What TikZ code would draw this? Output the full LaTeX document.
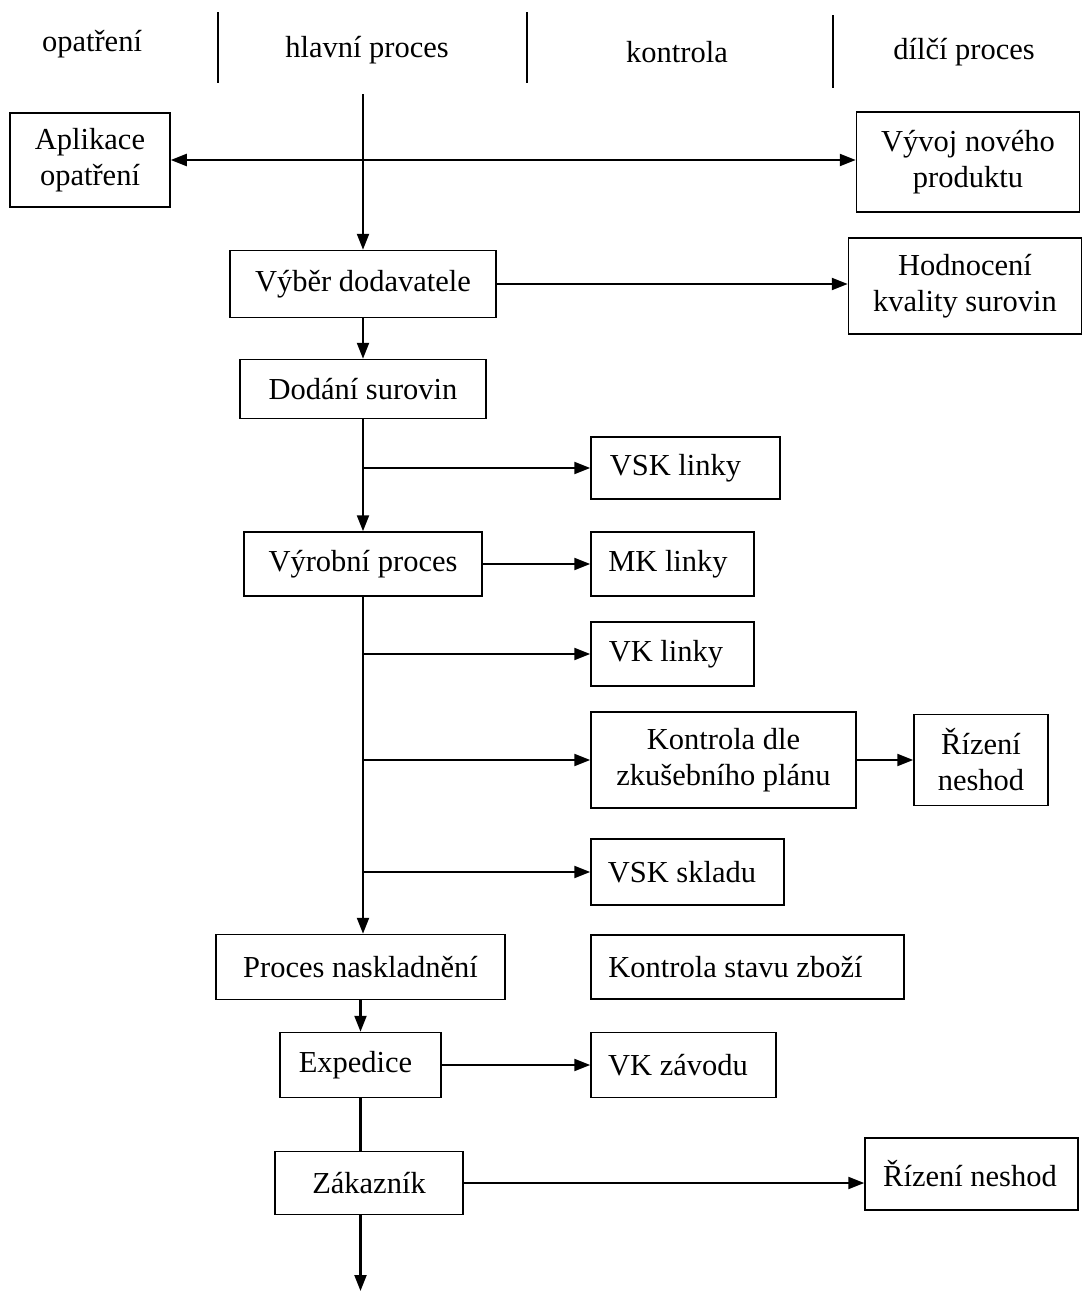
\documentclass[tikz,border=0pt]{standalone}
\usepackage{fontspec}
\setmainfont{Liberation Serif}
\usetikzlibrary{arrows.meta}
\begin{document}
\begin{tikzpicture}[x=1pt,y=-1pt,
  box/.style={draw, line width=1.5pt, align=center, inner sep=0pt, font=\fontsize{30.5}{36}\selectfont},
  hdr/.style={font=\fontsize{30.5}{36}\selectfont},
  conn/.style={line width=2.2pt},
  arr/.style={conn, -{Triangle[length=16pt,width=12pt]}},
  darr/.style={conn, {Triangle[length=16pt,width=12pt]}-{Triangle[length=16pt,width=12pt]}},
  divider/.style={line width=2.6pt}]
\useasboundingbox (0,0) rectangle (1086,1293);
% header
\node[hdr] (h1) at (92,44) {opatření};
\node[hdr] (h2) at (367,50) {hlavní proces};
\node[hdr] (h3) at (677,52) {kontrola};
\node[hdr] (h4) at (964,52) {dílčí proces};
\coordinate (d1a) at (218,12); \coordinate (d1b) at (218,83);
\coordinate (d2a) at (527,12); \coordinate (d2b) at (527,83);
\coordinate (d3a) at (833,15); \coordinate (d3b) at (833,88);
\draw[divider] (d1a) -- (d1b);
\draw[line width=1.5pt] (d2a) -- (d2b);
\draw[divider] (d3a) -- (d3b);
% boxes
\node[box, minimum width=160pt, minimum height=94pt] (apl) at (90,160) {Aplikace\\opatření};
\node[box, minimum width=223pt, minimum height=100pt] (vyv) at (968,162) {Vývoj nového\\produktu};
\node[box, minimum width=266pt, minimum height=67pt] (vyb) at (363,284) {Výběr dodavatele};
\node[box, minimum width=233pt, minimum height=96pt] (hod) at (965,286) {Hodnocení\\kvality surovin};
\node[box, minimum width=246pt, minimum height=59pt] (dod) at (363,389) {Dodání surovin};
\node[box, minimum width=189pt, minimum height=62pt] (vskl) at (685.5,468) {\hspace*{-20pt}VSK linky};
\node[box, minimum width=238pt, minimum height=64pt] (vyr) at (363,564) {Výrobní proces};
\node[box, minimum width=163pt, minimum height=64pt] (mk) at (672.5,564) {\hspace*{-9pt}MK linky};
\node[box, minimum width=163pt, minimum height=64pt] (vkl) at (672.5,654) {\hspace*{-13pt}VK linky};
\node[box, minimum width=265pt, minimum height=96pt] (kon) at (723.5,760) {Kontrola dle\\zkušebního plánu};
\node[box, minimum width=134pt, minimum height=91pt] (riz1) at (981,760) {Řízení\\neshod};
\node[box, minimum width=193pt, minimum height=66pt] (vsks) at (687.5,872) {\hspace*{-11pt}VSK skladu};
\node[box, minimum width=289pt, minimum height=65pt] (nas) at (360.5,967) {Proces naskladnění};
\node[box, minimum width=313pt, minimum height=64pt] (kst) at (747.5,967) {\hspace*{-24pt}Kontrola stavu zboží};
\node[box, minimum width=161pt, minimum height=65pt] (exp) at (360.5,1065) {\hspace*{-10pt}Expedice};
\node[box, minimum width=185pt, minimum height=65pt] (vkz) at (683.5,1065) {\hspace*{-11pt}VK závodu};
\node[box, minimum width=188pt, minimum height=63pt] (zak) at (369,1183) {Zákazník};
\node[box, minimum width=213pt, minimum height=72pt] (riz2) at (971.5,1174) {\hspace*{-3pt}Řízení neshod};
% connectors
\coordinate (top) at (363,94);
\draw[arr] (top) -- (vyb.north);
\draw[darr] (apl.east) -- (apl.east -| vyv.west);
\draw[arr] (vyb.east) -- (vyb.east -| hod.west);
\draw[arr] (vyb.south) -- (dod.north);
\draw[arr] (dod.south) -- (vyr.north);
\coordinate (b1) at (363,468);
\draw[arr] (b1) -- (vskl.west);
\draw[arr] (vyr.east) -- (mk.west);
\draw[arr] (vyr.south) -- (nas.north -| vyr.south);
\coordinate (b2) at (363,654);
\coordinate (b3) at (363,760);
\coordinate (b4) at (363,872);
\draw[arr] (b2) -- (vkl.west);
\draw[arr] (b3) -- (kon.west);
\draw[arr] (b4) -- (vsks.west);
\draw[arr] (kon.east) -- (riz1.west);
\draw[arr] (nas.south) -- (exp.north);
\draw[arr] (exp.east) -- (vkz.west);
\draw[conn] (exp.south) -- (exp.south |- zak.north);
\draw[arr] (zak.east) -- (zak.east -| riz2.west);
\coordinate (bot) at (360.5,1291);
\draw[arr] (zak.south -| exp.south) -- (bot);
\end{tikzpicture}
\end{document}
